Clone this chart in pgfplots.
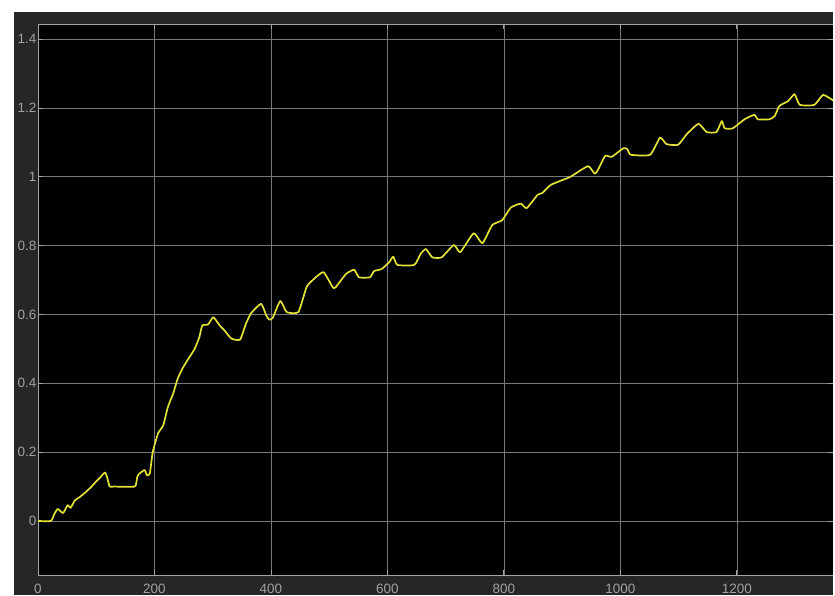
\documentclass[border=0pt]{standalone}
\usepackage{pgfplots}
\pgfplotsset{compat=1.18}
\usepackage{fontspec}
\setmainfont{Liberation Sans}
\definecolor{panelbg}{RGB}{38,38,38}
\definecolor{gridc}{RGB}{120,120,120}
\definecolor{axisc}{RGB}{165,165,165}
\definecolor{labc}{RGB}{160,160,160}
\definecolor{sigc}{RGB}{225,225,55}
\pgfplotstableread{
x y
0 0
22 0
28 0.02
34 0.035
43 0.023
51 0.046
56 0.038
63 0.059
72 0.07
80 0.081
92 0.10
100 0.115
106 0.125
115 0.141
119 0.125
123 0.10
130 0.10
166 0.10
170 0.125
173 0.136
183 0.148
187 0.133
192 0.138
197 0.20
206 0.254
215 0.278
223 0.331
232 0.37
240 0.414
249 0.446
260 0.476
269 0.50
277 0.534
282 0.568
292 0.571
301 0.592
312 0.568
320 0.554
332 0.53
347 0.527
357 0.573
366 0.604
383 0.631
392 0.597
397 0.585
403 0.59
416 0.639
427 0.607
447 0.607
461 0.679
471 0.699
490 0.723
506 0.679
511 0.679
529 0.718
543 0.73
551 0.708
570 0.708
577 0.726
590 0.732
603 0.752
610 0.768
617 0.744
646 0.744
657 0.776
666 0.79
677 0.766
693 0.766
714 0.802
725 0.781
748 0.836
763 0.807
780 0.86
797 0.874
812 0.911
829 0.922
839 0.909
858 0.948
866 0.953
881 0.977
913 0.999
928 1.015
945 1.031
956 1.009
962 1.022
974 1.061
985 1.058
1005 1.083
1012 1.080
1018 1.064
1051 1.064
1068 1.114
1079 1.095
1099 1.093
1114 1.124
1134 1.154
1148 1.130
1165 1.130
1174 1.162
1179 1.141
1193 1.141
1213 1.167
1230 1.180
1236 1.167
1256 1.167
1265 1.177
1273 1.206
1288 1.220
1299 1.240
1308 1.209
1333 1.209
1348 1.238
1365 1.222
}\datatable
\begin{document}
\begin{tikzpicture}[x=1pt,y=1pt]
\path[use as bounding box] (0,0) rectangle (835,595);
\fill[white] (0,0) rectangle (835,595);
\fill[panelbg] (14,0) rectangle (833,583);
\begin{scope}
\clip (14,0) rectangle (833,583);
\begin{axis}[
  at={(38pt,20pt)}, anchor=south west,
  width=795pt, height=551pt, scale only axis,
  xmin=0, xmax=1365, ymin=-0.157, ymax=1.444,
  axis background/.style={fill=black},
  axis line style={draw=axisc, line width=0.9pt},
  xtick={0,200,...,1200},
  ytick={0,0.2,...,1.4},
  grid=major,
  major grid style={draw=gridc, line width=0.75pt},
  tick style={draw=axisc, line width=0.9pt},
  major tick length=5pt,
  tick align=inside,
  /pgf/number format/assume math mode=true,
  /pgf/number format/fixed,
  /pgf/number format/1000 sep={},
  ticklabel style={font=\fontsize{13.5}{14}\selectfont, text=labc, inner sep=0pt},
  yticklabel style={anchor=east, xshift=-1.5pt},
  xticklabel style={anchor=north, yshift=-9pt},
  clip=true,
]
\addplot[sigc, line width=1.7pt, line join=round, line cap=round, smooth, tension=0.3] table[x=x,y=y] {\datatable};
\end{axis}
\end{scope}
\end{tikzpicture}
\end{document}
